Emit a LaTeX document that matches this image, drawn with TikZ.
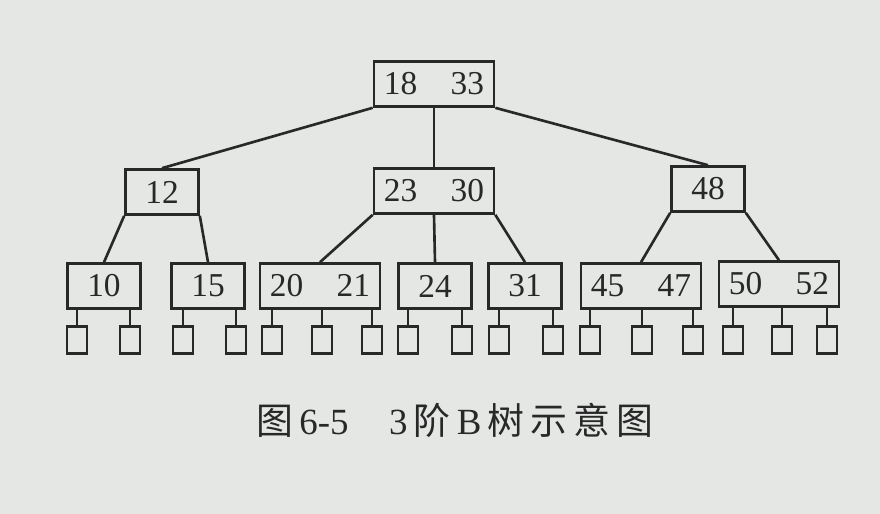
\documentclass[tikz,border=0pt]{standalone}
\usepackage{fontspec}
\setmainfont{Liberation Serif}
\newfontfamily\cjk{Noto Sans CJK SC}
\usetikzlibrary{positioning}
\definecolor{PageGray}{RGB}{229,231,229}
\definecolor{InkGray}{RGB}{40,40,40}
\tikzset{
  link/.style={draw=InkGray,line width=1.5pt},
  keybox/.style={draw=InkGray,line width=1.5pt,minimum height=0.9cm,inner sep=0pt,
    text=InkGray,font=\fontsize{19}{22}\selectfont},
  onekey/.style={keybox,minimum width=1.46cm},
  twokey/.style={keybox,minimum width=2.4cm},
  leafbox/.style={draw=InkGray,line width=1.5pt,minimum width=0.4cm,
    minimum height=0.54cm,inner sep=0pt}
}
\begin{document}
\begin{tikzpicture}[x=0.02cm,y=-0.02cm]
  \fill[PageGray] (0,0) rectangle (880,514);
  % root
  \node[twokey] (root) at (434,84) {18\quad 33};
  % second level
  \node[onekey] (k12) at (162,192) {12};
  \node[twokey] (k2330) at (434,191) {23\quad 30};
  \node[onekey] (k48) at (708,189) {48};
  \draw[link] (root.south west) -- (k12.north);
  \draw[link] (root.south) -- (k2330.north);
  \draw[link] (root.south east) -- (k48.north);
  % third level
  \node[onekey] (k10) at (104,286) {10};
  \node[onekey] (k15) at (208,286) {15};
  \node[twokey] (k2021) at (320,286) {20\quad 21};
  \node[onekey] (k24) at (435,286) {24};
  \node[onekey] (k31) at (525,286) {31};
  \node[twokey] (k4547) at (641,286) {45\quad 47};
  \node[twokey] (k5052) at (779,284) {50\quad 52};
  \draw[link] (k12.south west) -- (k10.north);
  \draw[link] (k12.south east) -- (k15.north);
  \draw[link] (k2330.south west) -- (k2021.north);
  \draw[link] (k2330.south) -- (k24.north);
  \draw[link] (k2330.south east) -- (k31.north);
  \draw[link] (k48.south west) -- (k4547.north);
  \draw[link] (k48.south east) -- (k5052.north);
  % empty leaves
  \foreach \name/\x/\up in {a/77/k10,b/130/k10,c/183/k15,d/236/k15,
      e/272/k2021,f/322/k2021,g/372/k2021,h/408/k24,i/462/k24,
      j/499/k31,k/553/k31,l/590/k4547,m/642/k4547,n/693/k4547,
      o/733/k5052,p/782/k5052,q/827/k5052}{
    \node[leafbox] (leaf\name) at (\x,340) {};
    \draw[link] (leaf\name.north) -- (leaf\name.north |- \up.south);
  }
  % caption
  \node[text=InkGray,font=\fontsize{21}{25}\selectfont] (caption) at (455,420)
    {{\cjk 图}\,6-5\hspace{1.1em}3\,{\cjk 阶}\,B\,{\cjk 树\,示\,意\,图}};
\end{tikzpicture}
\end{document}
